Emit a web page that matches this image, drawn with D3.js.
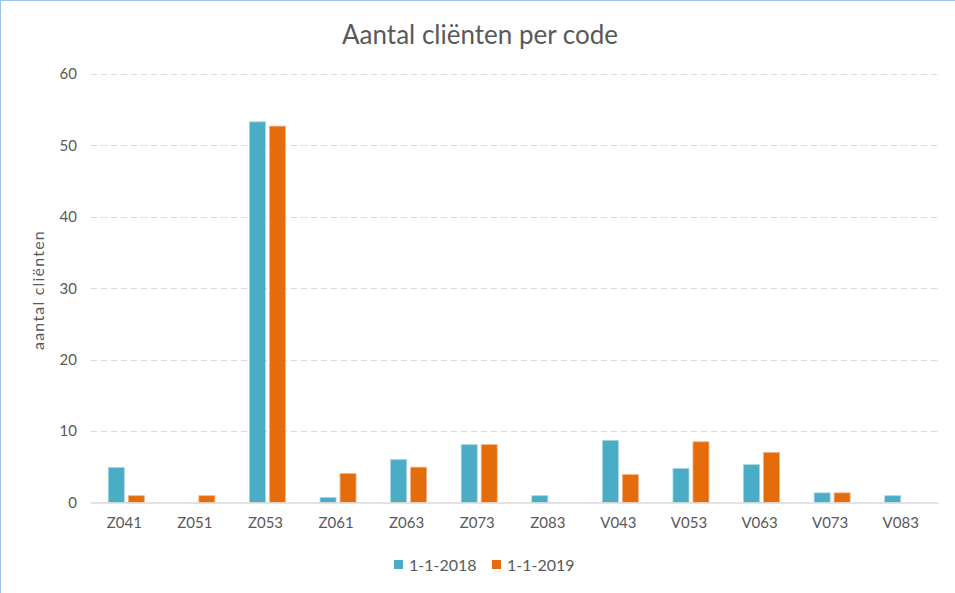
<!DOCTYPE html>
<html>
<head>
<meta charset="utf-8">
<script src="https://cdn.jsdelivr.net/npm/d3@7"></script>
<style>
  body { margin: 0; background: #fff; }
  svg text { font-family: Lato, "Open Sans", sans-serif; fill: #595959; }
</style>
</head>
<body>
<div id="chart"></div>
<script>
// Data
const codes = ["Z041", "Z051", "Z053", "Z061", "Z063", "Z073", "Z083", "V043", "V053", "V063", "V073", "V083"];
const seriesNames = ["1-1-2018", "1-1-2019"];
const values2018 = [4.9, 0, 53.3, 0.7, 6.0, 8.1, 0.95, 8.7, 4.75, 5.3, 1.35, 0.95];
const values2019 = [0.95, 0.95, 52.7, 4.05, 4.95, 8.1, 0, 3.9, 8.5, 7.0, 1.35, 0];
const yTicks = [0, 10, 20, 30, 40, 50, 60];
const colors = ["#4BACC6", "#E46C0A"];
const strokes = ["#A5D5E2", "#F4B183"];

const width = 955, height = 593;
const margin = { top: 74, right: 17, bottom: 90, left: 91 };

const svg = d3.select("#chart").append("svg")
    .attr("width", width)
    .attr("height", height);

// light blue frame on top and left edge
svg.append("line").attr("x1", 0.5).attr("x2", 0.5).attr("y1", 0).attr("y2", height)
    .attr("stroke", "#9DC3E6").attr("stroke-width", 1);
svg.append("line").attr("x1", 0).attr("x2", width).attr("y1", 0.5).attr("y2", 0.5)
    .attr("stroke", "#9DC3E6").attr("stroke-width", 1);

const x0 = d3.scaleBand()
    .domain(codes)
    .range([margin.left, width - margin.right])
    .paddingInner(0.49)
    .paddingOuter(0.245);

const x1 = d3.scaleBand()
    .domain(seriesNames)
    .range([0, x0.bandwidth()])
    .paddingInner(0.2);

const y = d3.scaleLinear()
    .domain([0, 60])
    .range([height - margin.bottom - 0.5, margin.top]);

// Gridlines
svg.append("g")
    .selectAll("line")
    .data(yTicks.filter(d => d > 0))
    .join("line")
    .attr("x1", margin.left)
    .attr("x2", width - margin.right)
    .attr("y1", d => Math.round(y(d)) + 0.5)
    .attr("y2", d => Math.round(y(d)) + 0.5)
    .attr("stroke", "#D9D9D9")
    .attr("stroke-width", 1)
    .attr("stroke-dasharray", "6,4");

// Y axis labels
const yAxis = d3.axisLeft(y).tickValues(yTicks).tickSize(0).tickPadding(0);
svg.append("g")
    .attr("transform", `translate(${margin.left - 14},0)`)
    .call(yAxis)
    .call(g => g.select(".domain").remove())
    .call(g => g.selectAll("text")
        .attr("font-size", 15)
        .attr("font-family", "Lato, 'Open Sans', sans-serif")
        .attr("fill", "#595959"));

// Bars
const data = codes.map((c, i) => ({ code: c, vals: [values2018[i], values2019[i]] }));

svg.append("g")
    .selectAll("g")
    .data(data)
    .join("g")
    .attr("transform", d => `translate(${x0(d.code)},0)`)
    .selectAll("rect")
    .data(d => d.vals.map((v, k) => ({ series: seriesNames[k], k: k, value: v })))
    .join("rect")
    .filter(d => d.value > 0)
    .attr("x", d => x1(d.series))
    .attr("width", x1.bandwidth())
    .attr("y", d => y(d.value))
    .attr("height", d => y(0) - y(d.value))
    .attr("fill", d => colors[d.k])
    .attr("stroke", d => strokes[d.k])
    .attr("stroke-width", 0.8);

// X axis baseline
svg.append("line")
    .attr("x1", margin.left)
    .attr("x2", width - margin.right)
    .attr("y1", y(0) + 0.5)
    .attr("y2", y(0) + 0.5)
    .attr("stroke", "#D9D9D9")
    .attr("stroke-width", 1.5);

// X axis labels
const xAxis = d3.axisBottom(x0).tickSize(0).tickPadding(0);
svg.append("g")
    .attr("transform", `translate(-2,${y(0) + 15})`)
    .call(xAxis)
    .call(g => g.select(".domain").remove())
    .call(g => g.selectAll("text")
        .attr("dy", "0.71em")
        .attr("font-size", 15)
        .attr("font-family", "Lato, 'Open Sans', sans-serif")
        .attr("fill", "#595959"));

// Title
svg.append("text")
    .attr("x", 480)
    .attr("y", 44)
    .attr("text-anchor", "middle")
    .attr("font-size", 26)
    .text("Aantal cliënten per code");

// Y axis title
svg.append("text")
    .attr("transform", "translate(44,290) rotate(-90)")
    .attr("text-anchor", "middle")
    .attr("font-size", 16)
    .attr("letter-spacing", 1.2)
    .text("aantal cliënten");

// Legend
const legend = svg.append("g").attr("transform", "translate(394,559)");
const legendX = [0, 98];
seriesNames.forEach((name, k) => {
    legend.append("rect")
        .attr("x", legendX[k])
        .attr("y", 1)
        .attr("width", 9)
        .attr("height", 9)
        .attr("fill", colors[k]);
    legend.append("text")
        .attr("x", legendX[k] + 15)
        .attr("y", 12)
        .attr("font-size", 16)
        .text(name);
});
</script>
</body>
</html>
